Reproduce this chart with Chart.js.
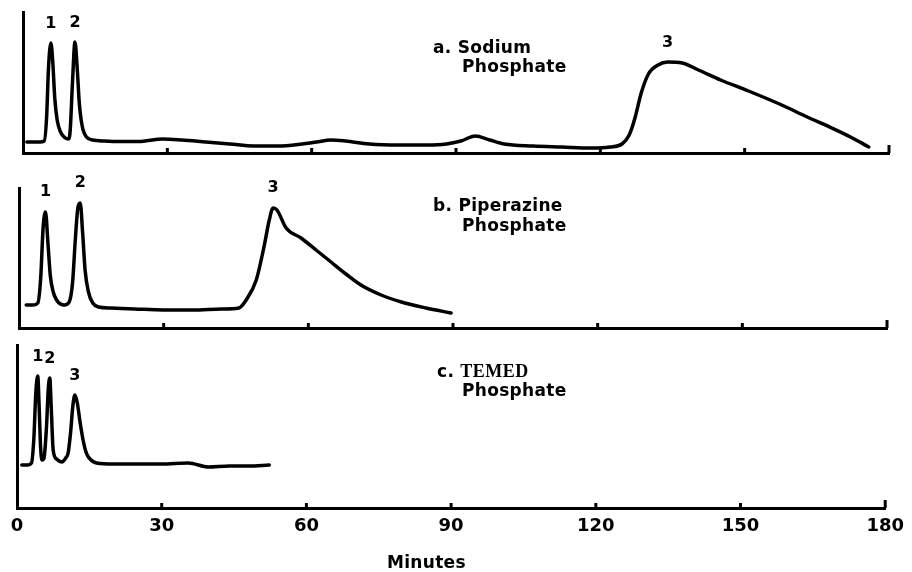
<!DOCTYPE html>
<html>
<head>
<meta charset="utf-8">
<script src="https://cdn.jsdelivr.net/npm/chart.js@4.4.1/dist/chart.umd.min.js"></script>
<style>
  html, body { margin: 0; padding: 0; background: #ffffff; }
  #wrap { position: relative; width: 912px; height: 572px; overflow: hidden; background: #fff; }
  #wrap canvas { position: absolute; left: 0; top: 0; }
  .lbl { position: absolute; font-family: "DejaVu Sans", sans-serif; font-weight: bold; font-size: 17px; color: #000; white-space: nowrap; line-height: 19px; letter-spacing: 0.3px; }
  .serif { font-family: "Liberation Serif", serif; letter-spacing: 0.5px; font-size: 18px; }
</style>
</head>
<body>
<div id="wrap">
  <canvas id="cA" width="912" height="572"></canvas>
  <canvas id="cB" width="912" height="572"></canvas>
  <canvas id="cC" width="912" height="572"></canvas>
  <div class="lbl" style="left:433px; top:38px;">a. Sodium</div>
  <div class="lbl" style="left:462px; top:57px;">Phosphate</div>
  <div class="lbl" style="left:433px; top:196px;">b. Piperazine</div>
  <div class="lbl" style="left:462px; top:216px;">Phosphate</div>
  <div class="lbl" style="left:437px; top:362px;">c. <span class="serif">TEMED</span></div>
  <div class="lbl" style="left:462px; top:381px;">Phosphate</div>
  <div class="lbl" style="left:387px; top:553px;">Minutes</div>
</div>
<script>
// ---- Data (time in minutes, detector response in arbitrary units) ----
const xTicks = [0, 30, 60, 90, 120, 150, 180];

// a. Sodium Phosphate
const minutesA = [0.8, 2, 3.5, 4.4, 4.9, 5.3, 5.8, 6.2, 6.6, 7.1, 7.8, 8.8, 9.4, 9.8, 10.3, 10.8, 11.3, 11.7, 12.3, 13.2,
  14.5, 17, 20, 24, 29, 33, 38, 43, 48, 53, 58, 61, 64, 67, 72, 78, 84, 88, 91, 94,
  97, 100, 106, 112, 118, 122, 124.5, 126, 127.2, 128.5, 130, 132, 134, 137, 140.4, 145, 150.8, 157.7, 163, 168.1,
  172, 175.8];
const responseA = [11, 11, 11, 12, 35, 85, 110, 90, 55, 33, 21, 15, 14, 22, 72, 111, 82, 50, 27, 16,
  13, 12, 11.5, 11.5, 14, 13, 11, 9, 7, 7, 9, 11, 13, 12, 9, 8, 8, 9, 12, 17,
  13, 9, 7, 6, 5, 6, 9, 18, 35, 60, 79, 88, 91, 90, 83, 73, 62, 48, 36, 25,
  16, 6];
const peakLabelsA = ['1', '2', '3'];
const peakTimesA = [5.8, 10.8, 134];

// b. Piperazine Phosphate
const minutesB = [1.5, 3, 3.9, 4.5, 5.0, 5.5, 6.0, 6.5, 7.1, 7.8, 8.6, 9.4, 10.4, 11.1, 11.7, 12.2, 12.7, 13.2, 13.7, 14.4,
  15.3, 16.5, 19, 24, 30, 36, 42, 45.6, 47.1, 49.2, 50.8, 51.9, 52.7, 53.5, 55.4, 58.5, 61.6, 64.7, 67.8, 70.9,
  75.1, 79.3, 84.4, 89.6];
const responseB = [23, 23, 25, 50, 100, 116, 85, 52, 36, 28, 24, 23, 26, 45, 90, 120, 125, 95, 58, 36,
  25, 21, 20, 19, 18, 18, 19, 20, 28, 48, 81, 108, 120, 118, 100, 90, 78, 66, 54, 43,
  33, 26, 20, 15];
const peakLabelsB = ['1', '2', '3'];
const peakTimesB = [5.5, 12.7, 52.7];

// c. TEMED Phosphate
const minutesC = [1.0, 2.2, 3.0, 3.5, 3.9, 4.3, 4.6, 4.9, 5.2, 5.6, 6.1, 6.5, 6.8, 7.1, 7.5, 8.2, 9.3, 10.1, 10.6, 11.1,
  11.6, 12.0, 12.5, 13.1, 13.7, 14.3, 14.8, 15.6, 16.5, 20, 25, 30, 35.5, 39.7, 44, 48, 52.3];
const responseC = [43, 43, 45, 70, 115, 132, 100, 60, 48, 50, 80, 120, 130, 100, 58, 49, 46, 50, 55, 75,
  103, 113, 105, 85, 68, 56, 51, 47, 45, 44, 44, 44, 45, 41, 42, 42, 43];
const peakLabelsC = ['1', '2', '3'];
const peakTimesC = [4.3, 6.8, 12.0];

// ---- Helpers ----
function points(xs, ys) { return xs.map((x, i) => ({ x: x, y: ys[i] })); }

const tickMarkPlugin = {
  id: 'tickMarks',
  afterDatasetsDraw(chart) {
    const ctx = chart.ctx, xs = chart.scales.x, bottom = chart.chartArea.bottom;
    ctx.save();
    ctx.strokeStyle = '#000';
    ctx.lineWidth = 3;
    xTicks.forEach(v => {
      if (v === 0) return;
      const px = xs.getPixelForValue(v);
      const h = v === 180 ? 8 : 5;
      ctx.beginPath();
      ctx.moveTo(px, bottom);
      ctx.lineTo(px, bottom - h);
      ctx.stroke();
    });
    ctx.restore();
  }
};

const peakLabelPlugin = {
  id: 'peakLabels',
  afterDatasetsDraw(chart, args, opts) {
    const ctx = chart.ctx, xs = chart.scales.x, ys = chart.scales.y;
    const data = chart.data.datasets[0].data;
    ctx.save();
    ctx.fillStyle = '#000';
    ctx.font = 'bold 16px "DejaVu Sans", sans-serif';
    ctx.textAlign = 'center';
    ctx.textBaseline = 'middle';
    opts.labels.forEach((t, i) => {
      const tm = opts.times[i];
      let best = data[0];
      data.forEach(p => { if (Math.abs(p.x - tm) < Math.abs(best.x - tm)) best = p; });
      ctx.fillText(t, xs.getPixelForValue(best.x), ys.getPixelForValue(best.y) - opts.offset);
    });
    ctx.restore();
  }
};

function makeChart(id, xs, ys, yMax, padding, labels, times, offset, showTicks) {
  return new Chart(document.getElementById(id), {
    type: 'line',
    data: {
      datasets: [{
        data: points(xs, ys),
        borderColor: '#000',
        borderWidth: 3.5,
        pointRadius: 0,
        cubicInterpolationMode: 'monotone',
        borderCapStyle: 'round',
        borderJoinStyle: 'round',
        fill: false
      }]
    },
    options: {
      responsive: false,
      animation: false,
      events: [],
      layout: { padding: padding },
      plugins: {
        legend: { display: false },
        tooltip: { enabled: false },
        title: { display: false },
        peakLabels: { labels: labels, times: times, offset: offset }
      },
      scales: {
        x: {
          type: 'linear',
          min: 0, max: 180,
          afterBuildTicks: s => { s.ticks = xTicks.map(v => ({ value: v })); },
          afterFit: s => { s.height = showTicks ? 30 : 0; },
          grid: { display: false, drawTicks: false },
          border: { display: true, color: '#000', width: 3 },
          ticks: {
            display: showTicks,
            padding: 8,
            color: '#000',
            maxRotation: 0,
            autoSkip: false,
            font: { family: '"DejaVu Sans", sans-serif', weight: 'bold', size: 18 },
            callback: v => String(v)
          }
        },
        y: {
          type: 'linear',
          min: 0, max: yMax,
          grid: { display: false, drawTicks: false },
          border: { display: true, color: '#000', width: 3 },
          ticks: { display: false }
        }
      }
    },
    plugins: [tickMarkPlugin, peakLabelPlugin]
  });
}

makeChart('cA', minutesA, responseA, 141, { left: 23, right: 23, top: 12, bottom: 572 - 153 }, peakLabelsA, peakTimesA, 19, false);
makeChart('cB', minutesB, responseB, 140, { left: 19, right: 25, top: 188, bottom: 572 - 328 }, peakLabelsB, peakTimesB, 20, false);
makeChart('cC', minutesC, responseC, 163, { left: 17, right: 25, top: 345, bottom: 572 - 508 - 30 }, peakLabelsC, peakTimesC, 19, true);
</script>
</body>
</html>
